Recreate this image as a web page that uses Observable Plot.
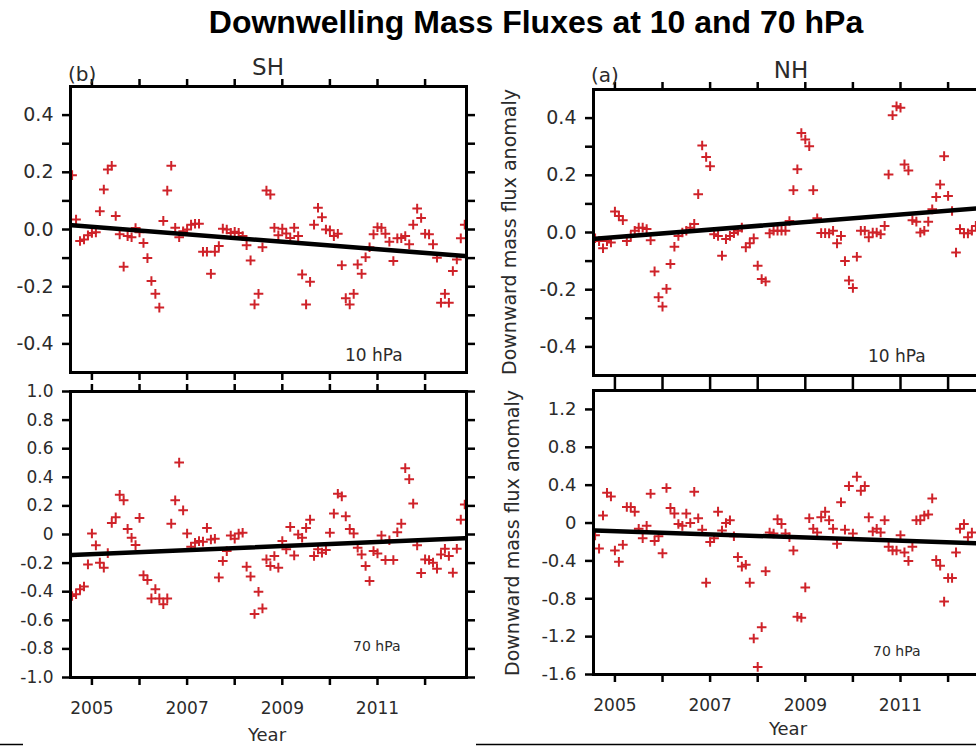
<!DOCTYPE html>
<html><head><meta charset="utf-8">
<script src="https://cdn.jsdelivr.net/npm/d3@7"></script>
<script src="https://cdn.jsdelivr.net/npm/@observablehq/plot@0.6"></script>
<style>
html,body{margin:0;padding:0;background:#fff;}
#chart{position:relative;width:976px;height:746px;overflow:hidden;background:#fff;}
#overlay{position:absolute;left:0;top:0;}
</style></head>
<body><div id="chart"></div>
<script>
// ---- time axis ----
const startYear = 2004, startMonth = 8;          // first monthly value: Aug 2004
const xDomain = [2004.55, 2012.87];
const yearTicks = [2005, 2006, 2007, 2008, 2009, 2010, 2011, 2012];
const yearLabels = [2005, 2007, 2009, 2011];

// ---- monthly anomalies ----
const sh10 = [0.19,0.035,-0.04,-0.035,-0.02,-0.012,-0.01,0.064,0.14,0.21,
  0.223,0.047,-0.017,-0.13,-0.023,-0.027,0.005,-0.01,-0.047,-0.10,
  -0.18,-0.225,-0.273,0.03,0.136,0.223,0.006,-0.027,-0.006,0.0,
  0.017,0.02,0.02,-0.078,-0.078,-0.155,-0.078,-0.058,0.003,0.0,
  -0.012,-0.008,-0.012,-0.023,-0.055,-0.108,-0.262,-0.225,-0.062,0.136,
  0.122,0.006,-0.02,0.003,-0.014,-0.03,0.006,-0.023,-0.157,-0.262,
  -0.183,0.017,0.076,0.043,0.0,-0.003,-0.023,-0.015,-0.125,-0.24,
  -0.262,-0.225,-0.122,-0.155,-0.097,-0.062,-0.017,0.008,0.006,-0.015,
  -0.043,-0.11,-0.031,-0.03,-0.023,-0.052,0.017,0.073,0.04,-0.015,
  -0.017,-0.052,-0.099,-0.256,-0.225,-0.256,-0.145,-0.105,-0.031,0.017];
const sh70 = [-0.43,-0.417,-0.382,-0.364,-0.209,0.007,-0.076,-0.197,-0.232,-0.13,
  0.081,0.12,0.278,0.239,0.039,-0.023,-0.074,0.116,-0.285,-0.318,
  -0.447,-0.382,-0.447,-0.487,-0.447,0.076,0.239,0.503,0.169,0.007,
  -0.086,-0.058,-0.046,-0.05,0.046,-0.035,-0.03,-0.30,-0.185,-0.116,
  -0.007,-0.03,0.007,0.012,-0.225,-0.294,-0.556,-0.40,-0.517,-0.174,
  -0.22,-0.15,-0.232,-0.046,-0.104,0.053,-0.146,0.0,-0.023,0.046,
  0.104,-0.15,-0.104,-0.127,-0.109,0.012,0.146,0.285,0.267,0.127,
  0.039,0.007,-0.093,-0.139,-0.22,-0.325,-0.116,-0.132,-0.007,-0.178,
  -0.04,-0.178,0.016,0.076,0.464,0.387,0.216,-0.076,-0.27,-0.174,
  -0.178,-0.197,-0.239,-0.139,-0.1,-0.15,-0.267,-0.1,0.104,0.21];
const nh10 = [-0.02,-0.03,-0.055,-0.03,-0.035,0.073,0.058,0.043,-0.03,-0.012,
  0.006,0.017,0.017,0.012,-0.027,-0.136,-0.226,-0.259,-0.197,-0.11,
  -0.05,-0.012,0.0,0.006,0.017,0.03,0.134,0.304,0.264,0.232,
  -0.006,-0.012,-0.081,-0.023,-0.012,-0.002,0.006,0.017,-0.052,-0.038,
  -0.02,-0.116,-0.163,-0.171,-0.003,0.006,0.006,0.006,0.006,0.04,
  0.148,0.221,0.348,0.325,0.302,0.148,0.05,-0.002,-0.002,-0.003,
  0.006,-0.038,-0.012,-0.1,-0.168,-0.194,-0.085,0.006,0.006,-0.017,
  0.0,0.0,-0.006,0.023,0.203,0.41,0.441,0.436,0.238,0.217,
  0.043,0.038,0.0,0.006,0.038,0.081,0.124,0.168,0.267,0.128,
  0.075,-0.07,0.012,-0.003,-0.003,0.006,0.023];
const nh70 = [-0.13,-0.27,0.08,0.32,0.28,-0.29,-0.41,-0.23,0.17,0.17,
  0.12,-0.06,-0.16,-0.03,0.31,-0.19,-0.14,-0.32,0.37,0.16,
  0.1,-0.01,-0.03,0.1,0.0,0.33,0.05,-0.07,-0.63,-0.2,
  -0.16,0.12,-0.08,0.0,0.03,-0.14,-0.36,-0.46,-0.44,-0.63,
  -1.22,-1.52,-1.1,-0.51,-0.1,-0.11,0.04,-0.01,-0.11,-0.15,
  -0.29,-0.99,-1.0,-0.68,0.05,-0.06,-0.1,0.06,0.12,0.03,
  -0.06,-0.22,0.22,-0.07,0.39,-0.11,0.49,0.34,0.39,0.06,
  -0.09,-0.06,-0.1,0.03,-0.25,-0.29,-0.29,-0.13,-0.31,-0.4,
  -0.25,0.03,0.03,0.08,0.09,0.26,-0.39,-0.45,-0.83,-0.58,
  -0.58,-0.31,-0.06,-0.01,-0.15,-0.1];

// ---- linear trends (values at first and last month) ----
const trendSpan = [2004 + 7/12, 2012 + 10/12];
const trendSH10 = [0.015, -0.093];
const trendSH70 = [-0.144, -0.027];
const trendNH10 = [-0.022, 0.087];
const trendNH70 = [-0.08, -0.217];

// ---- y ticks and labels ----
const ticks10 = [0.4, 0.2, 0, -0.2, -0.4];
const labels10 = ["0.4", "0.2", "0.0", "-0.2", "-0.4"];
const minor10 = [0.4, 0.3, 0.2, 0.1, 0, -0.1, -0.2, -0.3, -0.4];
const ticksSH70 = [1, 0.8, 0.6, 0.4, 0.2, 0, -0.2, -0.4, -0.6, -0.8, -1];
const labelsSH70 = ["1.0","0.8","0.6","0.4","0.2","0","-0.2","-0.4","-0.6","-0.8","-1.0"];
const ticksNH70 = [1.2, 0.8, 0.4, 0, -0.4, -0.8, -1.2, -1.6];
const labelsNH70 = ["1.2","0.8","0.4","0","-0.4","-0.8","-1.2","-1.6"];

const FONT = "DejaVu Sans, Verdana, sans-serif";
const RED = "#cf2229";

function monthT(i) { return startYear + (startMonth - 1 + i) / 12; }

function panel(o) {
  const pts = o.values.map((v, i) => ({t: monthT(i), v}));
  const tr = trendSpan.map((t, k) => ({t, v: o.trend[k]}));
  const fmt = new Map(o.ticks.map((d, i) => [d, o.labels[i]]));
  const tickStyle = {tickFormat: () => "", label: null, stroke: "#000", strokeWidth: 2.5, tickSize: 8};
  const marks = [
    Plot.axisX({anchor: "top", ticks: yearTicks, ...tickStyle}),
    Plot.axisX({anchor: "bottom", ticks: yearTicks, ...tickStyle}),
    Plot.axisY({anchor: "left", ticks: o.minor, ...tickStyle}),
    Plot.axisY({anchor: "right", ticks: o.minor, ...tickStyle}),
    Plot.axisY({anchor: "left", ticks: o.ticks, tickSize: 0, tickPadding: 17,
      tickFormat: d => fmt.get(d), label: null, fontSize: o.fs, fill: "#2b2b2b"}),
    Plot.dot(pts, {x: "t", y: "v", symbol: "plus", r: 3.2, stroke: RED, strokeWidth: 2, clip: true}),
    Plot.line(tr, {x: "t", y: "v", stroke: "#000", strokeWidth: 4.5}),
    Plot.frame({stroke: "#000", strokeWidth: 3})
  ];
  if (o.years) marks.push(Plot.axisX({anchor: "bottom", ticks: yearLabels, tickSize: 0, tickPadding: 24,
      tickFormat: d => String(d), label: null, fontSize: 17, fill: "#2b2b2b"}));
  return Plot.plot({
    width: 480, height: o.height,
    marginLeft: 70, marginRight: 14, marginTop: o.mt, marginBottom: o.mb,
    x: {domain: xDomain, label: null},
    y: {domain: o.yDomain, label: null},
    style: {position: "absolute", left: o.left + "px", top: o.top + "px",
      background: "transparent", overflow: "visible", maxWidth: "none",
      fontFamily: FONT, color: "#000"},
    marks
  });
}

const chart = document.getElementById("chart");
chart.append(
  panel({values: sh10, trend: trendSH10, yDomain: [-0.5, 0.5], ticks: ticks10, labels: labels10, minor: minor10,
    fs: 19, left: 0, top: 50, height: 340, mt: 36, mb: 18, years: false}),
  panel({values: sh70, trend: trendSH70, yDomain: [-1, 1], ticks: ticksSH70, labels: labelsSH70, minor: ticksSH70,
    fs: 17, left: 0, top: 380, height: 366, mt: 11, mb: 69, years: true}),
  panel({values: nh10, trend: trendNH10, yDomain: [-0.5, 0.5], ticks: ticks10, labels: labels10, minor: minor10,
    fs: 19, left: 523, top: 50, height: 340, mt: 39, mb: 15, years: false}),
  panel({values: nh70, trend: trendNH70, yDomain: [-1.6, 1.4], ticks: ticksNH70, labels: labelsNH70, minor: ticksNH70,
    fs: 18, left: 523, top: 380, height: 366, mt: 10, mb: 72, years: true})
);

// ---- titles and annotations ----
const svg = d3.select(chart).append("svg").attr("id", "overlay")
  .attr("width", 976).attr("height", 746).style("pointer-events", "none");
const texts = [
  {t: "Downwelling Mass Fluxes at 10 and 70 hPa", x: 536, y: 33, s: 32, a: "middle", w: "bold", f: "Liberation Sans, Arial, sans-serif", c: "#000"},
  {t: "(b)", x: 68, y: 81, s: 20, a: "start"},
  {t: "SH", x: 268, y: 75, s: 23, a: "middle"},
  {t: "(a)", x: 591, y: 82, s: 20, a: "start"},
  {t: "NH", x: 791, y: 78, s: 23, a: "middle"},
  {t: "10 hPa", x: 345, y: 361, s: 17, a: "start"},
  {t: "10 hPa", x: 868, y: 362, s: 17, a: "start"},
  {t: "70 hPa", x: 353, y: 651, s: 14, a: "start"},
  {t: "70 hPa", x: 873, y: 656, s: 14, a: "start"},
  {t: "Year", x: 267, y: 741, s: 18, a: "middle"},
  {t: "Year", x: 788, y: 735, s: 18, a: "middle"}
];
for (const d of texts) {
  svg.append("text").attr("x", d.x).attr("y", d.y).attr("text-anchor", d.a)
    .attr("font-size", d.s).attr("font-weight", d.w || "normal")
    .attr("font-family", d.f || FONT).attr("fill", d.c || "#2b2b2b").text(d.t);
}
for (const [x, y] of [[516, 232], [519, 533]]) {
  svg.append("text").attr("transform", `translate(${x},${y}) rotate(-90)`)
    .attr("text-anchor", "middle").attr("font-size", 19).attr("font-family", FONT)
    .attr("fill", "#2b2b2b").text("Downward mass flux anomaly");
}
// thin rule fragments along the lower edge of the figure
svg.append("line").attr("x1", 0).attr("x2", 23).attr("y1", 744.5).attr("y2", 744.5).attr("stroke", "#000").attr("stroke-width", 1.5);
svg.append("line").attr("x1", 476).attr("x2", 976).attr("y1", 744.5).attr("y2", 744.5).attr("stroke", "#000").attr("stroke-width", 1.5);
</script>
</body></html>
